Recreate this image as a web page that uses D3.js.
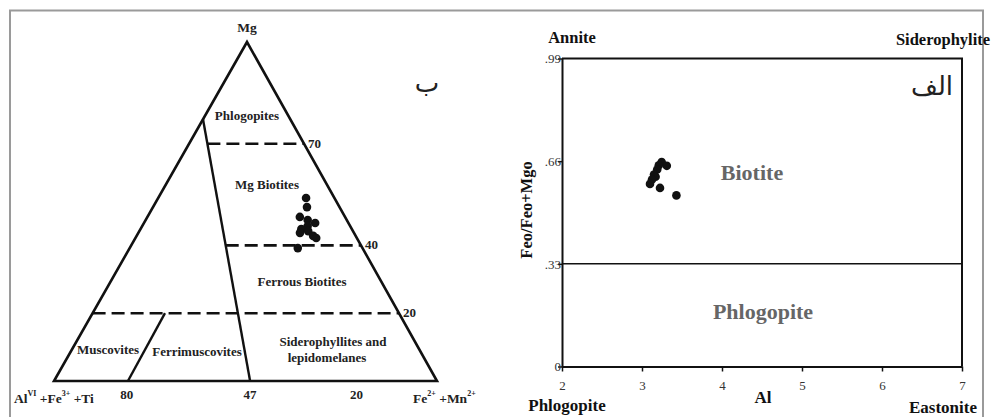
<!DOCTYPE html>
<html><head><meta charset="utf-8">
<script src="https://cdn.jsdelivr.net/npm/d3@7"></script>
<style>
body{margin:0;background:#fff;}
svg text{font-family:"Liberation Serif","Tinos","DejaVu Serif","Noto Serif","Times New Roman",serif !important;}
svg text.ar{font-family:"DejaVu Sans","Noto Sans Arabic",sans-serif !important;}
</style></head>
<body>
<svg id="c" width="995" height="417"></svg>
<script>
// ---------- DATA ----------
// Ternary diagram (left): Mg, Al (AlVI+Fe3++Ti), Fe (Fe2++Mn2+) fractions
const ternMg = [0.540, 0.513, 0.484, 0.475, 0.466, 0.457, 0.448, 0.437, 0.442, 0.428, 0.422, 0.392];
const ternFe = [0.386, 0.402, 0.398, 0.423, 0.447, 0.432, 0.420, 0.422, 0.441, 0.461, 0.472, 0.439];
const ternFields = ["Phlogopites", "Mg Biotites", "Ferrous Biotites", "Muscovites", "Ferrimuscovites", "Siderophyllites and", "lepidomelanes"];
const ternMgLevels = [0.70, 0.40, 0.20];
const ternMgLabels = ["70", "40", "20"];
const ternBaseLabels = ["80", "47", "20"];
const ternBaseFe = [0.19, 0.512, 0.79];
// Al vs Fe/(Fe+Mg) diagram (right)
const alValues = [3.246, 3.31, 3.21, 3.19, 3.15, 3.17, 3.125, 3.10, 3.225, 3.43];
const feRatio  = [0.657, 0.645, 0.647, 0.633, 0.617, 0.610, 0.601, 0.587, 0.574, 0.550];
const xTicks = [2, 3, 4, 5, 6, 7];
const yTicks = [0, 0.33, 0.66, 0.99];
const yTickLabels = ["0", ".33", ".66", ".99"];

const svg = d3.select("#c");

// outer frame
svg.append("path").attr("d", "M10,417 L10,10.5 L983,10.5 L983,417")
  .attr("fill", "none").attr("stroke", "#9a9a9a").attr("stroke-width", 2);

// ---------- TERNARY ----------
const mgY = d3.scaleLinear().domain([0, 1]).range([381, 42]);
const mgX = d3.scaleLinear().domain([0, 1]).range([0, 193]);
const feX = d3.scaleLinear().domain([0, 1]).range([54, 437]);
const tp = (mg, fe) => [feX(fe) + mgX(mg), mgY(mg)];
const line = d3.line();
const tg = svg.append("g");

tg.append("path").attr("d", line([tp(1,0), tp(0,0), tp(0,1), tp(1,0)]) + "Z")
  .attr("fill", "none").attr("stroke", "#111").attr("stroke-width", 2.6).attr("stroke-linejoin", "miter");
const bTop = [0.772, 0], bBot = [0, 0.512];
const bAt = mg => { const t = mg / bTop[0]; return [mg, bBot[1] + (bTop[1] - bBot[1]) * t]; };
tg.append("path").attr("d", line([tp(...bTop), tp(...bBot)]))
  .attr("stroke", "#111").attr("stroke-width", 2.4).attr("fill", "none");
tg.append("path").attr("d", line([tp(0, 0.193), tp(0.2, 0.189)]))
  .attr("stroke", "#111").attr("stroke-width", 2.4).attr("fill", "none");
ternMgLevels.forEach((m, i) => {
  const start = i < 2 ? tp(...bAt(m)) : tp(m, 0);
  const end = tp(m, 1 - m);
  tg.append("path").attr("d", line([start, end]))
    .attr("stroke", "#111").attr("stroke-width", 2.6).attr("stroke-dasharray", "13,6").attr("fill", "none");
  tg.append("text").attr("x", end[0] + 4).attr("y", end[1] + 4)
    .attr("font-size", 13).attr("font-weight", "bold").attr("fill", "#222").text(ternMgLabels[i]);
});
tg.selectAll("circle.t").data(ternMg).join("circle").attr("class", "t")
  .attr("cx", (d, i) => tp(d, ternFe[i])[0]).attr("cy", (d, i) => tp(d, ternFe[i])[1])
  .attr("r", 4.3).attr("fill", "#111");
const fieldPos = [[247,120],[267,189],[302,286],[108,354],[197,356],[333,346],[327,362]];
ternFields.forEach((t, i) => {
  tg.append("text").attr("x", fieldPos[i][0]).attr("y", fieldPos[i][1]).attr("text-anchor", "middle")
    .attr("font-size", 13).attr("font-weight", "bold").attr("fill", "#222").text(t);
});
tg.append("text").attr("x", 247).attr("y", 32).attr("text-anchor", "middle")
  .attr("font-size", 13.5).attr("font-weight", "bold").attr("fill", "#222").text("Mg");
ternBaseLabels.forEach((t, i) => {
  tg.append("text").attr("x", feX(ternBaseFe[i])).attr("y", 399).attr("text-anchor", "middle")
    .attr("font-size", 13).attr("font-weight", "bold").attr("fill", "#222").text(t);
});
const lt = tg.append("text").attr("x", 14).attr("y", 403).attr("font-size", 13.5)
  .attr("font-weight", "bold").attr("fill", "#222");
lt.append("tspan").text("Al");
lt.append("tspan").attr("dy", -7).attr("font-size", 8).text("VI");
lt.append("tspan").attr("dy", 7).text(" +Fe");
lt.append("tspan").attr("dy", -7).attr("font-size", 8).text("3+");
lt.append("tspan").attr("dy", 7).text(" +Ti");
const rt = tg.append("text").attr("x", 413).attr("y", 403).attr("font-size", 13.5)
  .attr("font-weight", "bold").attr("fill", "#222");
rt.append("tspan").text("Fe");
rt.append("tspan").attr("dy", -7).attr("font-size", 8).text("2+");
rt.append("tspan").attr("dy", 7).text(" +Mn");
rt.append("tspan").attr("dy", -7).attr("font-size", 8).text("2+");
tg.append("text").attr("class", "ar").attr("x", 427).attr("y", 92).attr("text-anchor", "middle")
  .attr("font-size", 26).attr("fill", "#222").text("ب");

// ---------- RIGHT PLOT ----------
const x = d3.scaleLinear().domain([2, 7]).range([562, 962]);
const y = d3.scaleLinear().domain([0, 0.99]).range([366.5, 58.5]);
const rg = svg.append("g");
rg.append("path").attr("d", line([[x(2), y(0.99)], [x(7), y(0.99)], [x(7), y(0)]]))
  .attr("fill", "none").attr("stroke", "#111").attr("stroke-width", 2);
rg.append("path").attr("d", line([[x(2), y(0.33)], [x(7), y(0.33)]]))
  .attr("stroke", "#111").attr("stroke-width", 1.5);
const xa = rg.append("g").attr("transform", `translate(0,${y(0)})`)
  .call(d3.axisBottom(x).tickValues(xTicks).tickSize(5).tickPadding(9).tickSizeOuter(0).tickFormat(d3.format("d")));
const ya = rg.append("g").attr("transform", `translate(${x(2)},0)`)
  .call(d3.axisLeft(y).tickValues(yTicks).tickSize(4).tickPadding(-3).tickSizeOuter(0)
    .tickFormat((d, i) => yTickLabels[i]));
[xa, ya].forEach(a => {
  a.select(".domain").attr("stroke", "#111").attr("stroke-width", 2);
  a.selectAll(".tick line").attr("stroke", "#111").attr("stroke-width", 1.5);
  a.selectAll(".tick text").attr("font-size", 13).attr("fill", "#333");
});
rg.selectAll("circle.r").data(alValues).join("circle").attr("class", "r")
  .attr("cx", d => x(d)).attr("cy", (d, i) => y(feRatio[i])).attr("r", 4.3).attr("fill", "#111");
const lab = (t, xx, yy, size, opts = {}) => rg.append("text").attr("x", xx).attr("y", yy)
  .attr("text-anchor", opts.anchor || "middle").attr("font-size", size)
  .attr("font-weight", opts.weight || "bold").attr("fill", opts.fill || "#111").text(t);
lab("Annite", 572, 43, 16.5);
lab("Siderophylite", 943, 45, 16.5);
lab("Biotite", 752, 180, 22, {fill: "#666"});
lab("Phlogopite", 763, 319, 22, {fill: "#666"});
lab("Al", 763, 403, 17);
lab("Phlogopite", 567, 411, 17);
lab("Eastonite", 943, 413, 17);
rg.append("text").attr("transform", "translate(532,210) rotate(-90)").attr("text-anchor", "middle")
  .attr("font-size", 16.5).attr("font-weight", "bold").attr("fill", "#111").text("Feo/Feo+Mgo");
rg.append("text").attr("class", "ar").attr("x", 932).attr("y", 95).attr("text-anchor", "middle")
  .attr("font-size", 26).attr("fill", "#222").text("الف");
</script>
</body></html>
